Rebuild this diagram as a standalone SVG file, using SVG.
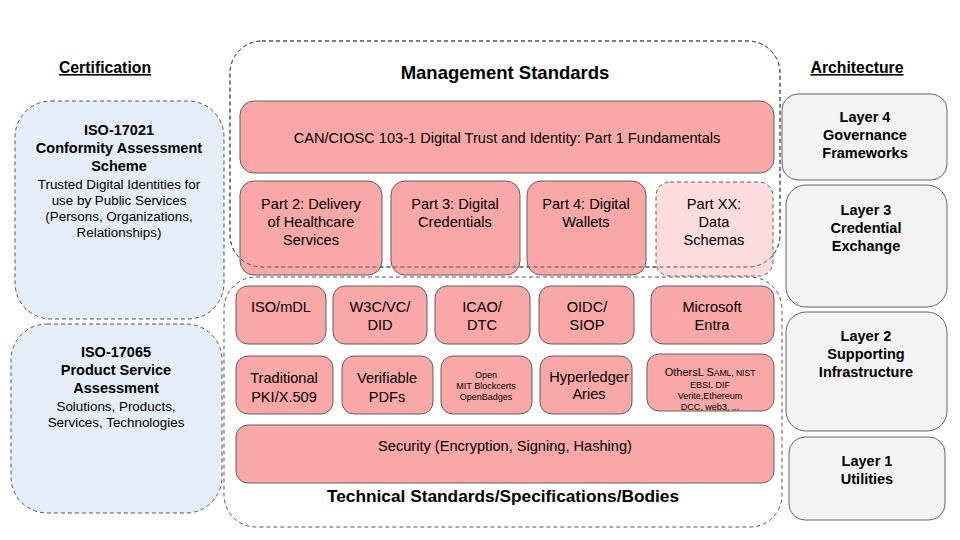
<svg xmlns="http://www.w3.org/2000/svg" width="960" height="540" viewBox="0 0 960 540">
<style>
text{font-family:"Liberation Sans",Arial,sans-serif;fill:#000;text-anchor:middle}
.h{font-size:15.8px;font-weight:bold;text-decoration:underline}
.b{font-size:14.5px;font-weight:bold}
.t{font-size:14.6px}
.s{font-size:13.4px}
.xs{font-size:9px}
.big{font-size:17.3px;font-weight:bold}
.pink{fill:#f9a7a7;stroke:#5f5f5f;stroke-width:1}
.lpink{fill:#fcdcdc;stroke:#5f5f5f;stroke-width:1;stroke-dasharray:4 3}
.cont{fill:none;stroke:#555;stroke-width:1;stroke-dasharray:4 3}
.blue{fill:#e5edf8;stroke:#555;stroke-width:1;stroke-dasharray:4 3}
.grey{fill:#f3f3f3;stroke:#666;stroke-width:1}
</style>
<rect width="960" height="540" fill="#fff"/>
<text class="h" x="105" y="73">Certification</text>
<text class="h" x="857" y="73">Architecture</text>

<g id="iso17021">
<rect class="blue" x="15" y="101" width="209" height="218" rx="36"/>
<text class="b" x="119" y="135">ISO-17021</text>
<text class="b" x="119" y="153">Conformity Assessment</text>
<text class="b" x="119" y="171">Scheme</text>
<text class="s" x="119" y="189">Trusted Digital Identities for</text>
<text class="s" x="119" y="205">use by Public Services</text>
<text class="s" x="119" y="221">(Persons, Organizations,</text>
<text class="s" x="119" y="237">Relationships)</text>
</g>
<g id="iso17065">
<rect class="blue" x="11" y="324" width="211" height="189" rx="36"/>
<text class="b" x="116" y="357">ISO-17065</text>
<text class="b" x="116" y="375">Product Service</text>
<text class="b" x="116" y="393">Assessment</text>
<text class="s" x="116" y="411">Solutions, Products,</text>
<text class="s" x="116" y="427">Services, Technologies</text>
</g>

<g id="mgmt">
<rect class="cont" x="230" y="41" width="550" height="226" rx="32"/>
<text class="big" x="505" y="79" style="font-size:18.5px">Management Standards</text>
</g>
<g id="tech">
<rect class="cont" x="224" y="277" width="558" height="250" rx="32"/>
<text class="big" x="503" y="502">Technical Standards/Specifications/Bodies</text>
</g>

<g id="can">
<rect class="pink" x="240" y="101" width="534" height="72" rx="14"/>
<text class="t" x="507" y="143">CAN/CIOSC 103-1 Digital Trust and Identity: Part 1 Fundamentals</text>
</g>
<g id="part2">
<rect class="pink" x="240" y="181" width="142" height="94" rx="14"/>
<text class="t" x="311" y="209">Part 2: Delivery</text>
<text class="t" x="311" y="227">of Healthcare</text>
<text class="t" x="311" y="245">Services</text>
</g>
<g id="part3">
<rect class="pink" x="391" y="181" width="129" height="94" rx="14"/>
<text class="t" x="455" y="209">Part 3: Digital</text>
<text class="t" x="455" y="227">Credentials</text>
</g>
<g id="part4">
<rect class="pink" x="527" y="181" width="119" height="94" rx="14"/>
<text class="t" x="586" y="209">Part 4: Digital</text>
<text class="t" x="586" y="227">Wallets</text>
</g>
<g id="partxx">
<rect class="lpink" x="656" y="182" width="117" height="94" rx="14"/>
<text class="t" x="714" y="209">Part XX:</text>
<text class="t" x="714" y="227">Data</text>
<text class="t" x="714" y="245">Schemas</text>
</g>
<rect class="cont" x="230" y="41" width="550" height="226" rx="32" fill="none"/>

<g id="isomdl">
<rect class="pink" x="236" y="286" width="90" height="58" rx="12"/>
<text class="t" x="281" y="312">ISO/mDL</text>
</g>
<g id="w3c">
<rect class="pink" x="333" y="286" width="94" height="58" rx="12"/>
<text class="t" x="380" y="312">W3C/VC/</text>
<text class="t" x="380" y="330">DID</text>
</g>
<g id="icao">
<rect class="pink" x="435" y="286" width="95" height="58" rx="12"/>
<text class="t" x="482" y="312">ICAO/</text>
<text class="t" x="482" y="330">DTC</text>
</g>
<g id="oidc">
<rect class="pink" x="539" y="286" width="95" height="58" rx="12"/>
<text class="t" x="587" y="312">OIDC/</text>
<text class="t" x="587" y="330">SIOP</text>
</g>
<g id="entra">
<rect class="pink" x="651" y="286" width="123" height="58" rx="12"/>
<text class="t" x="712" y="312">Microsoft</text>
<text class="t" x="712" y="330">Entra</text>
</g>

<g id="pki">
<rect class="pink" x="236" y="356" width="97" height="58" rx="12"/>
<text class="t" x="284" y="383">Traditional</text>
<text class="t" x="284" y="402">PKI/X.509</text>
</g>
<g id="pdfs">
<rect class="pink" x="342" y="356" width="91" height="58" rx="12"/>
<text class="t" x="387" y="383">Verifiable</text>
<text class="t" x="387" y="402">PDFs</text>
</g>
<g id="open">
<rect class="pink" x="441" y="356" width="91" height="58" rx="12"/>
<text class="xs" x="486" y="378">Open</text>
<text class="xs" x="486" y="389">MIT Blockcerts</text>
<text class="xs" x="486" y="400">OpenBadges</text>
</g>
<g id="aries">
<rect class="pink" x="540" y="356" width="92" height="58" rx="12"/>
<text class="t" x="589" y="382">Hyperledger</text>
<text class="t" x="589" y="399">Aries</text>
</g>
<g id="others">
<rect class="pink" x="647" y="354" width="127" height="57" rx="12"/>
<text x="710" y="376" style="font-size:11px">OthersL S<tspan style="font-size:8.5px">AML, NIST</tspan></text>
<text class="xs" x="710" y="388">EBSI. DIF</text>
<text class="xs" x="710" y="399">Verite,Ethereum</text>
<text class="xs" x="710" y="410">DCC, web3, ...</text>
</g>
<g id="security">
<rect class="pink" x="236" y="425" width="538" height="58" rx="12"/>
<text class="t" x="505" y="451">Security (Encryption, Signing, Hashing)</text>
</g>

<g id="layer4">
<rect class="grey" x="782" y="94" width="165" height="86" rx="16"/>
<text class="b" x="865" y="122">Layer 4</text>
<text class="b" x="865" y="140">Governance</text>
<text class="b" x="865" y="158">Frameworks</text>
</g>
<g id="layer3">
<rect class="grey" x="786" y="185" width="161" height="122" rx="20"/>
<text class="b" x="866" y="215">Layer 3</text>
<text class="b" x="866" y="233">Credential</text>
<text class="b" x="866" y="251">Exchange</text>
</g>
<g id="layer2">
<rect class="grey" x="786" y="312" width="161" height="119" rx="20"/>
<text class="b" x="866" y="341">Layer 2</text>
<text class="b" x="866" y="359">Supporting</text>
<text class="b" x="866" y="377">Infrastructure</text>
</g>
<g id="layer1">
<rect class="grey" x="789" y="437" width="156" height="83" rx="16"/>
<text class="b" x="867" y="466">Layer 1</text>
<text class="b" x="867" y="484">Utilities</text>
</g>
<g id="connectors"></g>
</svg>
